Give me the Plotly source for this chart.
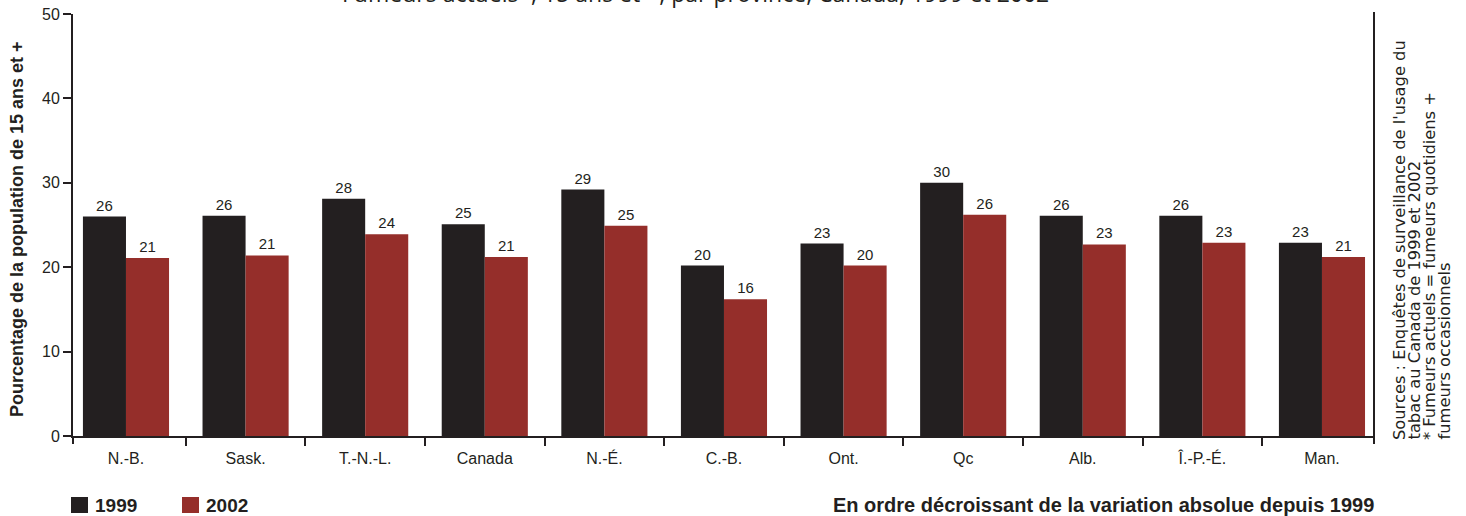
import plotly.graph_objects as go

# Current smokers (%), population aged 15+, by province
provinces = ["N.-B.", "Sask.", "T.-N.-L.", "Canada", "N.-É.", "C.-B.",
             "Ont.", "Qc", "Alb.", "Î.-P.-É.", "Man."]
values_1999 = [26.0, 26.1, 28.1, 25.1, 29.2, 20.2, 22.8, 30.0, 26.1, 26.1, 22.9]
values_2002 = [21.1, 21.4, 23.9, 21.2, 24.9, 16.2, 20.2, 26.2, 22.7, 22.9, 21.2]
year_labels = ["1999", "2002"]
y_ticks = [0, 10, 20, 30, 40, 50]

DARK = "#231f20"
RED = "#952e2a"
SANS = "Liberation Sans, Arial, sans-serif"
HUMAN = "Open Sans, Lato, sans-serif"
WIDE = "DejaVu Sans, Verdana, sans-serif"

W, H = 1466, 516
L, R, T, B = 73, 92, 14, 80
PW, PH = W - L - R, H - T - B


def px_x(px):
    """Page pixel column -> paper x."""
    return (px - L) / PW


def px_y(py):
    """Page pixel row -> paper y."""
    return (H - B - py) / PH


fig = go.Figure()
for vals, color in zip([values_1999, values_2002], [DARK, RED]):
    fig.add_trace(go.Bar(
        x=provinces, y=vals, marker=dict(color=color, line=dict(width=0)),
        text=vals, texttemplate="%{y:.0f}", textposition="outside",
        textfont=dict(family=SANS, size=15, color=DARK),
        cliponaxis=False, showlegend=False,
    ))

fig.update_layout(
    width=W, height=H,
    margin=dict(l=L, r=R, t=T, b=B, autoexpand=False),
    paper_bgcolor="white", plot_bgcolor="white",
    barmode="group", bargap=0.28, bargroupgap=0,
    font=dict(family=SANS, color=DARK),
    showlegend=False,
    xaxis=dict(
        range=[-0.443, 10.435], automargin=False,
        showline=True, linecolor=DARK, linewidth=2,
        ticks="outside", tickson="boundaries", ticklen=8, tickwidth=2, tickcolor=DARK,
        tickfont=dict(family=SANS, size=16, color=DARK), ticklabelstandoff=7,
        showgrid=False, zeroline=False,
    ),
    yaxis=dict(
        range=[0, 50], tickvals=y_ticks, automargin=False,
        showline=True, linecolor=DARK, linewidth=2,
        ticks="outside", ticklen=8, tickwidth=2, tickcolor=DARK,
        tickfont=dict(family=SANS, size=16, color=DARK),
        showgrid=False, zeroline=False,
    ),
)

# end ticks of the category axis and right frame line
for xe in (0, 1):
    fig.add_shape(type="line", xref="paper", yref="paper", x0=xe, x1=xe,
                  y0=0, y1=px_y(H - B + 8), line=dict(color=DARK, width=2))
fig.add_shape(type="line", xref="paper", yref="paper", x0=1, x1=1,
              y0=0, y1=px_y(12), line=dict(color=DARK, width=2))

# y-axis title
fig.add_annotation(
    text="<b>Pourcentage de la population de 15 ans et +</b>",
    xref="paper", yref="paper", x=px_x(17), y=px_y(229),
    xanchor="center", yanchor="middle", textangle=-90, showarrow=False,
    font=dict(family=SANS, size=18, color=DARK),
)

# chart title (runs off the top of the page)
fig.add_annotation(
    text="Fumeurs actuels*, 15 ans et +, par province, Canada, 1999 et 2002",
    xref="paper", yref="paper", x=px_x(695), y=px_y(-7),
    xanchor="center", yanchor="middle", showarrow=False,
    font=dict(family=HUMAN, size=23, color=DARK),
)

# sources / note, one rotated line each along the right edge
note_lines = [
    "Sources : Enquêtes de surveillance de l'usage du",
    "tabac au Canada de 1999 et 2002",
    "* Fumeurs actuels = fumeurs quotidiens +",
    "fumeurs occasionnels",
]
for i, line in enumerate(note_lines):
    fig.add_annotation(
        text=line, xref="paper", yref="paper",
        x=px_x(1399 + 15 * i), y=px_y(442),
        xanchor="center", yanchor="bottom", textangle=-90, showarrow=False,
        font=dict(family=WIDE, size=16.3, color=DARK),
    )

# year key
for i, (name, color) in enumerate(zip(year_labels, [DARK, RED])):
    x0 = 71 + 111 * i
    fig.add_shape(type="rect", xref="paper", yref="paper",
                  x0=px_x(x0), x1=px_x(x0 + 17), y0=px_y(513), y1=px_y(497),
                  fillcolor=color, line=dict(width=0))
    fig.add_annotation(
        text=f"<b>{name}</b>", xref="paper", yref="paper",
        x=px_x(x0 + 22), y=px_y(505), xanchor="left", yanchor="middle",
        showarrow=False, font=dict(family=SANS, size=19, color=DARK),
    )

# ordering note
fig.add_annotation(
    text="<b>En ordre décroissant de la variation absolue depuis 1999</b>",
    xref="paper", yref="paper", x=px_x(1376), y=px_y(505),
    xanchor="right", yanchor="middle", showarrow=False,
    font=dict(family=SANS, size=20, color=DARK),
)

fig.write_html("out.html")
